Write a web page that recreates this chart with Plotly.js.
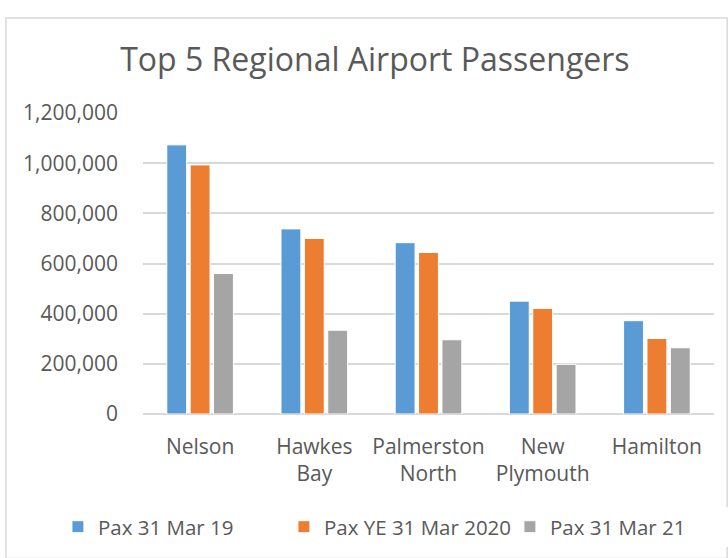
<!DOCTYPE html>
<html>
<head>
<meta charset="utf-8">
<script src="https://cdn.plot.ly/plotly-3.0.1.min.js"></script>
<style>
html,body{margin:0;padding:0;background:#fff;}
#chart{width:728px;height:558px;}
</style>
</head>
<body>
<div id="chart"></div>
<script>
const categories = ["Nelson", "Hawkes<br>Bay", "Palmerston<br>North", "New<br>Plymouth", "Hamilton"];
const seriesNames = ["Pax 31 Mar 19", "Pax YE 31 Mar 2020", "Pax 31 Mar 21"];
const pax2019 = [1073000, 738000, 683000, 450000, 372000];
const pax2020 = [993000, 700000, 644000, 421000, 301000];
const pax2021 = [560000, 334000, 296000, 198000, 264000];
const colors = ["#5b9bd5", "#ed7d31", "#a5a5a5"];

const seriesValues = [pax2019, pax2020, pax2021];
const traces = seriesValues.map((vals, i) => ({
  type: "bar",
  name: seriesNames[i],
  x: categories,
  y: vals,
  marker: {color: colors[i], line: {color: "#ffffff", width: 1}},
  hoverinfo: "x+y+name"
}));

const textColor = "#595959";
const font = "Open Sans, Liberation Sans, sans-serif";

const layout = {
  width: 728,
  height: 558,
  margin: {l: 143, r: 14, t: 113, b: 144, autoexpand: false},
  paper_bgcolor: "#ffffff",
  plot_bgcolor: "#ffffff",
  font: {family: font, color: textColor, size: 21},
  title: {
    text: "Top 5 Regional Airport Passengers",
    font: {family: font, size: 32, color: textColor},
    x: 0.515, xanchor: "center",
    y: 0.893, yanchor: "middle"
  },
  barmode: "group",
  bargap: 0.386,
  bargroupgap: 0.15,
  xaxis: {
    showgrid: false,
    showline: false,
    zeroline: false,
    ticks: "",
    tickfont: {family: font, size: 21, color: textColor},
    ticklabelstandoff: 18,
    fixedrange: true
  },
  yaxis: {
    range: [0, 1200000],
    dtick: 200000,
    tickformat: ",",
    showgrid: true,
    gridcolor: "#d9d9d9",
    gridwidth: 2,
    zeroline: true,
    zerolinecolor: "#d9d9d9",
    zerolinewidth: 2,
    ticks: "",
    ticklabelstandoff: 24,
    tickfont: {family: font, size: 21, color: textColor},
    fixedrange: true
  },
  showlegend: true,
  legend: {
    orientation: "h",
    x: -0.149, xanchor: "left",
    y: -0.375, yanchor: "middle",
    font: {family: font, size: 20.5, color: textColor},
    itemwidth: 30,
    entrywidth: 181,
    entrywidthmode: "pixels",
    traceorder: "normal"
  },
  shapes: [{
    type: "rect", xref: "paper", yref: "paper",
    x0: -0.240, x1: 1.023, y0: -0.48, y1: 1.316,
    line: {color: "#d9d9d9", width: 1.5},
    layer: "below"
  }]
};

Plotly.newPlot("chart", traces, layout, {displayModeBar: false, staticPlot: true});
</script>
</body>
</html>
